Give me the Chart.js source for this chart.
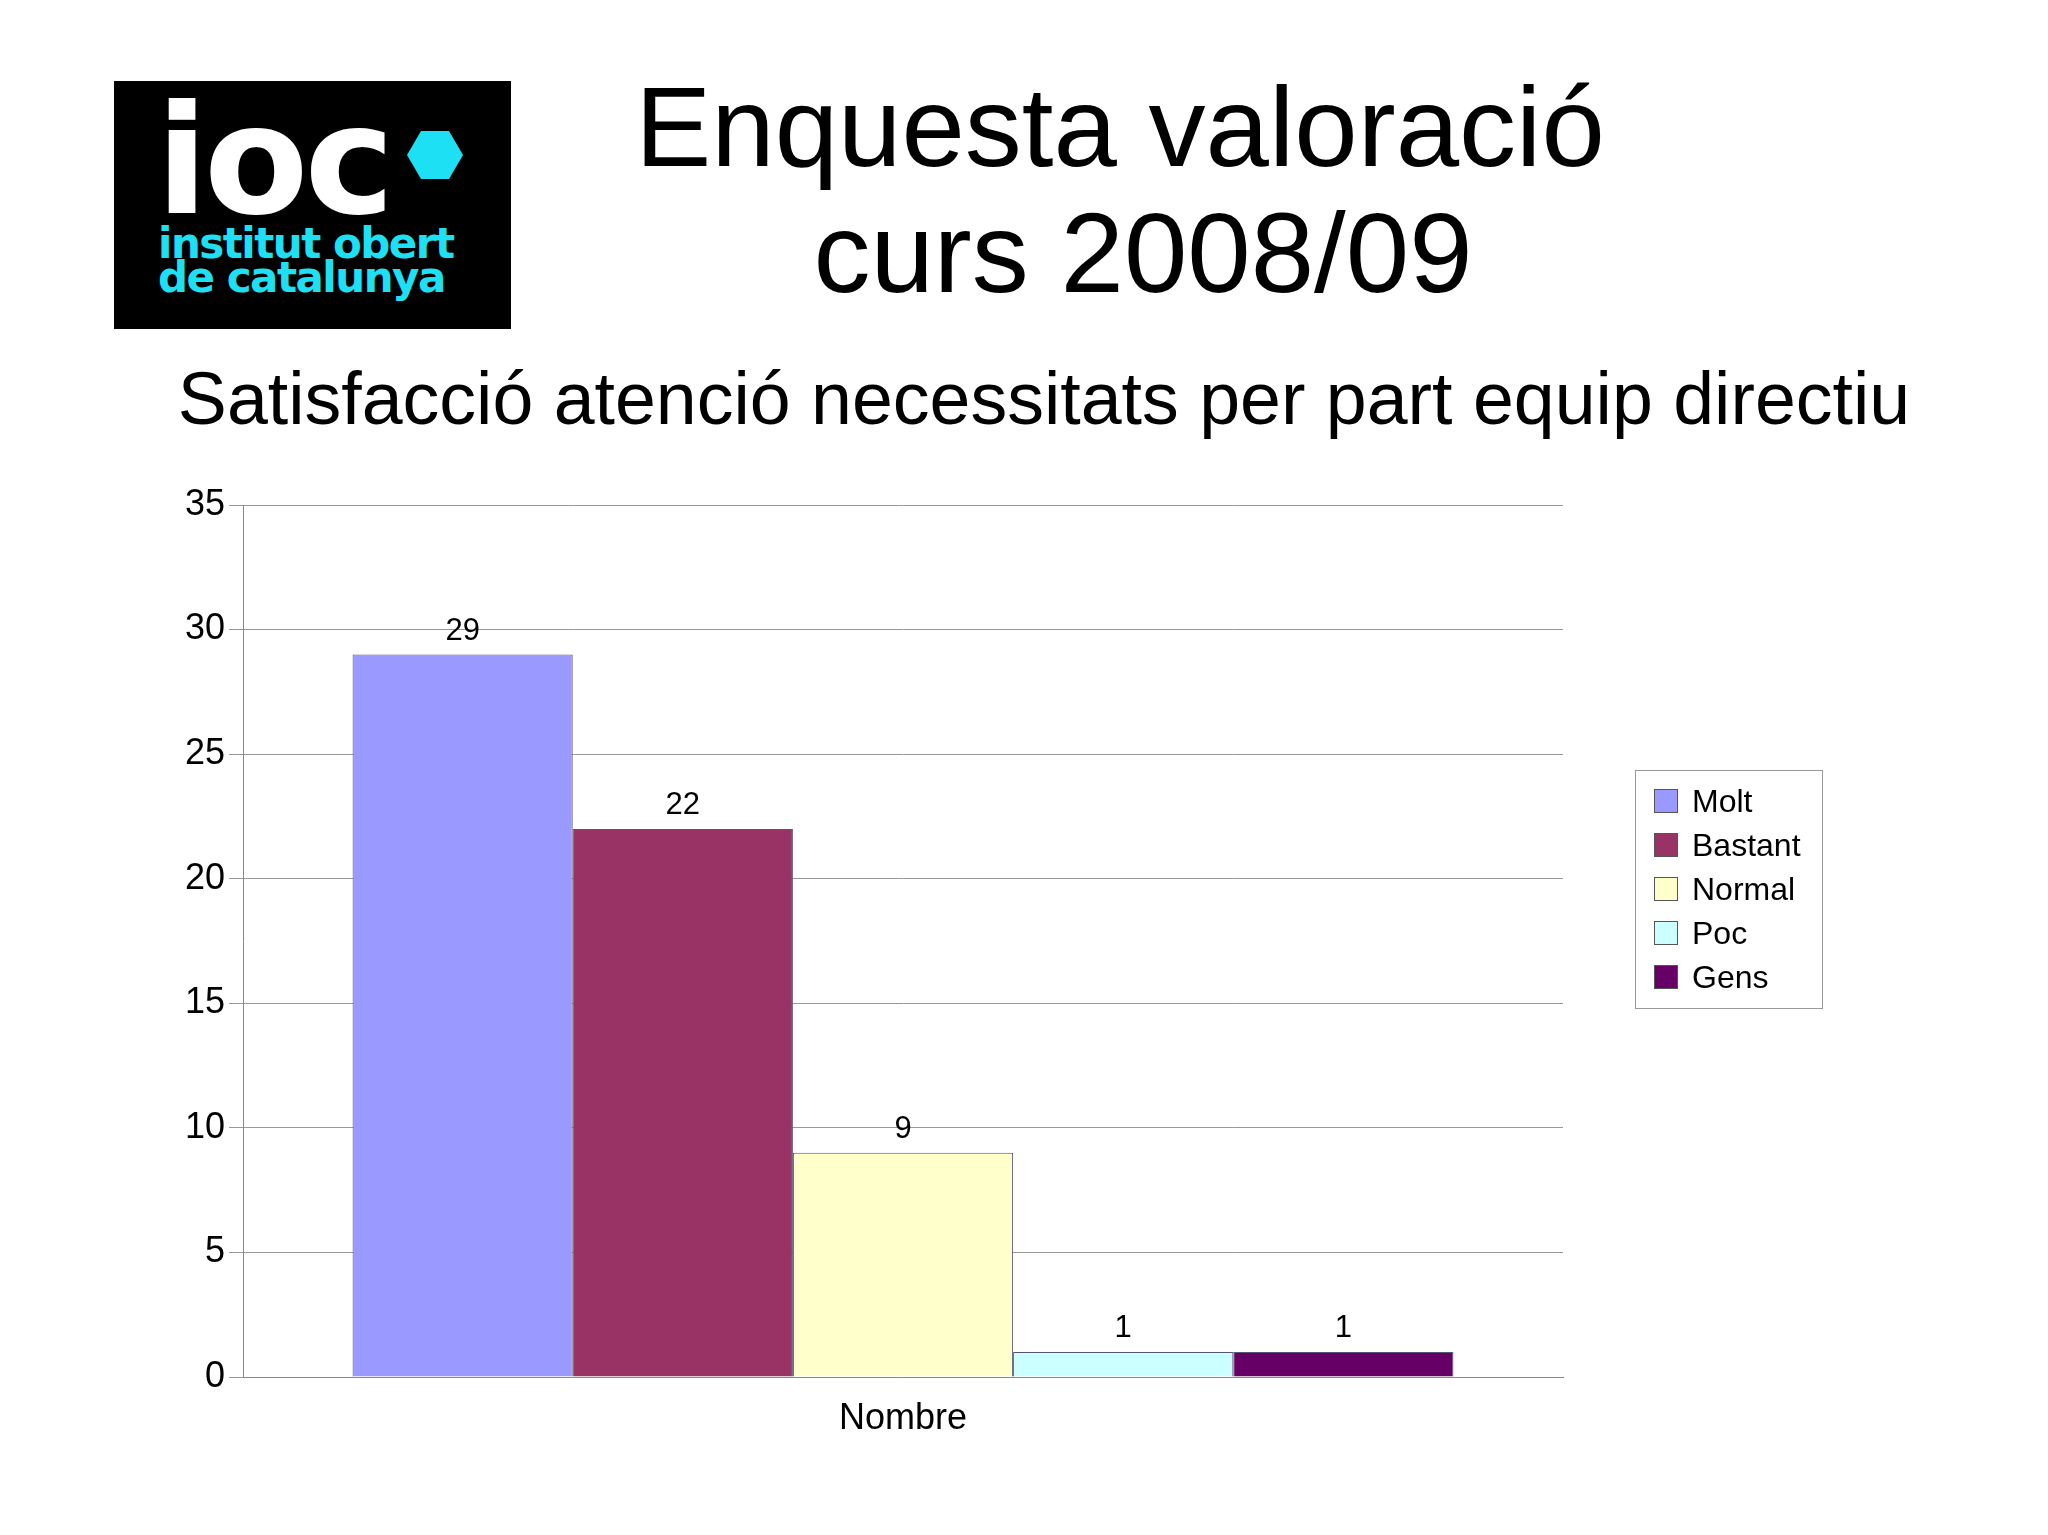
<!DOCTYPE html>
<html><head><meta charset="utf-8">
<script src="https://cdn.jsdelivr.net/npm/chart.js@4"></script>
<style>
body{margin:0;width:2048px;height:1535px;background:#fff;font-family:"Liberation Sans",Arial,sans-serif;position:relative;overflow:hidden}
#c{position:absolute;left:0;top:0}
.t{position:absolute;text-align:center;color:#000;white-space:nowrap}
#logo{position:absolute;left:114px;top:81px;width:397px;height:248px;background:#000}
#logo .i{position:absolute;left:42px;top:4px;font:bold 152px "DejaVu Sans",sans-serif;color:#fff;letter-spacing:-4px;line-height:152px}
#logo .h{position:absolute;left:293px;top:50px;width:56px;height:48px;background:#1ee0f5;clip-path:polygon(25% 0,75% 0,100% 50%,75% 100%,25% 100%,0 50%)}
#logo .s{position:absolute;left:44px;top:146px;font:bold 42px "DejaVu Sans",sans-serif;color:#1ee0f5;line-height:34px;letter-spacing:-1.5px}
#leg{position:absolute;left:1635px;top:770px;width:188px;height:239px;border:1px solid #999;box-sizing:border-box;padding:8px 0 0 18px}
#leg div{font-size:32px;height:44px;line-height:44px;display:flex;align-items:center}
#leg span{display:inline-block;width:22px;height:22px;border:1px solid #555;margin-right:14px}
</style></head><body>
<div id="logo"><div class="i">ioc</div><div class="h"></div><div class="s">institut obert<br>de catalunya</div></div>
<div class="t" style="left:600px;width:1040px;top:64px;font-size:114px;line-height:126px">Enquesta valoració<br><span style="padding-left:46px">curs 2008/09</span></div>
<div class="t" style="left:0;width:2048px;top:356px;font-size:73.5px;padding-left:20px">Satisfacció atenció necessitats per part equip directiu</div>
<canvas id="c" width="2048" height="1535"></canvas>
<div id="leg"></div>
<script>
const categories = ['Nombre'];
const seriesNames = ['Molt', 'Bastant', 'Normal', 'Poc', 'Gens'];
const seriesValues = [29, 22, 9, 1, 1];
const seriesColors = ['#9999ff', '#993366', '#ffffcc', '#ccffff', '#660066'];
const yTicks = [0, 5, 10, 15, 20, 25, 30, 35];

const leg = document.getElementById('leg');
seriesNames.forEach((n, i) => {
  leg.innerHTML += `<div><span style="background:${seriesColors[i]}"></span>${n}</div>`;
});

const valueLabels = {
  id: 'valueLabels',
  afterDatasetsDraw(chart) {
    const ctx = chart.ctx;
    ctx.save();
    ctx.font = '31px "Liberation Sans", Arial';
    ctx.fillStyle = '#000';
    ctx.textAlign = 'center';
    ctx.textBaseline = 'bottom';
    chart.data.datasets.forEach((ds, i) => {
      chart.getDatasetMeta(i).data.forEach((bar, j) => {
        ctx.fillText(ds.data[j], bar.x, bar.y - 8);
      });
    });
    ctx.restore();
  }
};

new Chart(document.getElementById('c'), {
  type: 'bar',
  data: {
    labels: categories,
    datasets: seriesNames.map((n, i) => ({
      label: n,
      data: [seriesValues[i]],
      backgroundColor: seriesColors[i],
      borderColor: '#555577',
      borderWidth: 1,
      barPercentage: 1,
      categoryPercentage: 0.834
    }))
  },
  options: {
    responsive: false,
    animation: false,
    layout: { padding: { left: 0, top: 505, right: 485, bottom: 88 } },
    plugins: { legend: { display: false }, tooltip: { enabled: false } },
    scales: {
      x: {
        afterFit: s => { s.height = 70; },
        grid: { display: false },
        border: { color: '#888' },
        ticks: { color: '#000', font: { size: 36, family: '"Liberation Sans", Arial' }, padding: 12 }
      },
      y: {
        min: 0, max: 35,
        afterFit: s => { s.width = 243; },
        afterBuildTicks: s => { s.ticks = yTicks.map(v => ({ value: v })); },
        grid: { color: '#999', tickLength: 14 },
        border: { color: '#888' },
        ticks: { color: '#000', font: { size: 36, family: '"Liberation Sans", Arial' }, padding: 4 }
      }
    }
  },
  plugins: [valueLabels]
});
</script>
</body></html>
